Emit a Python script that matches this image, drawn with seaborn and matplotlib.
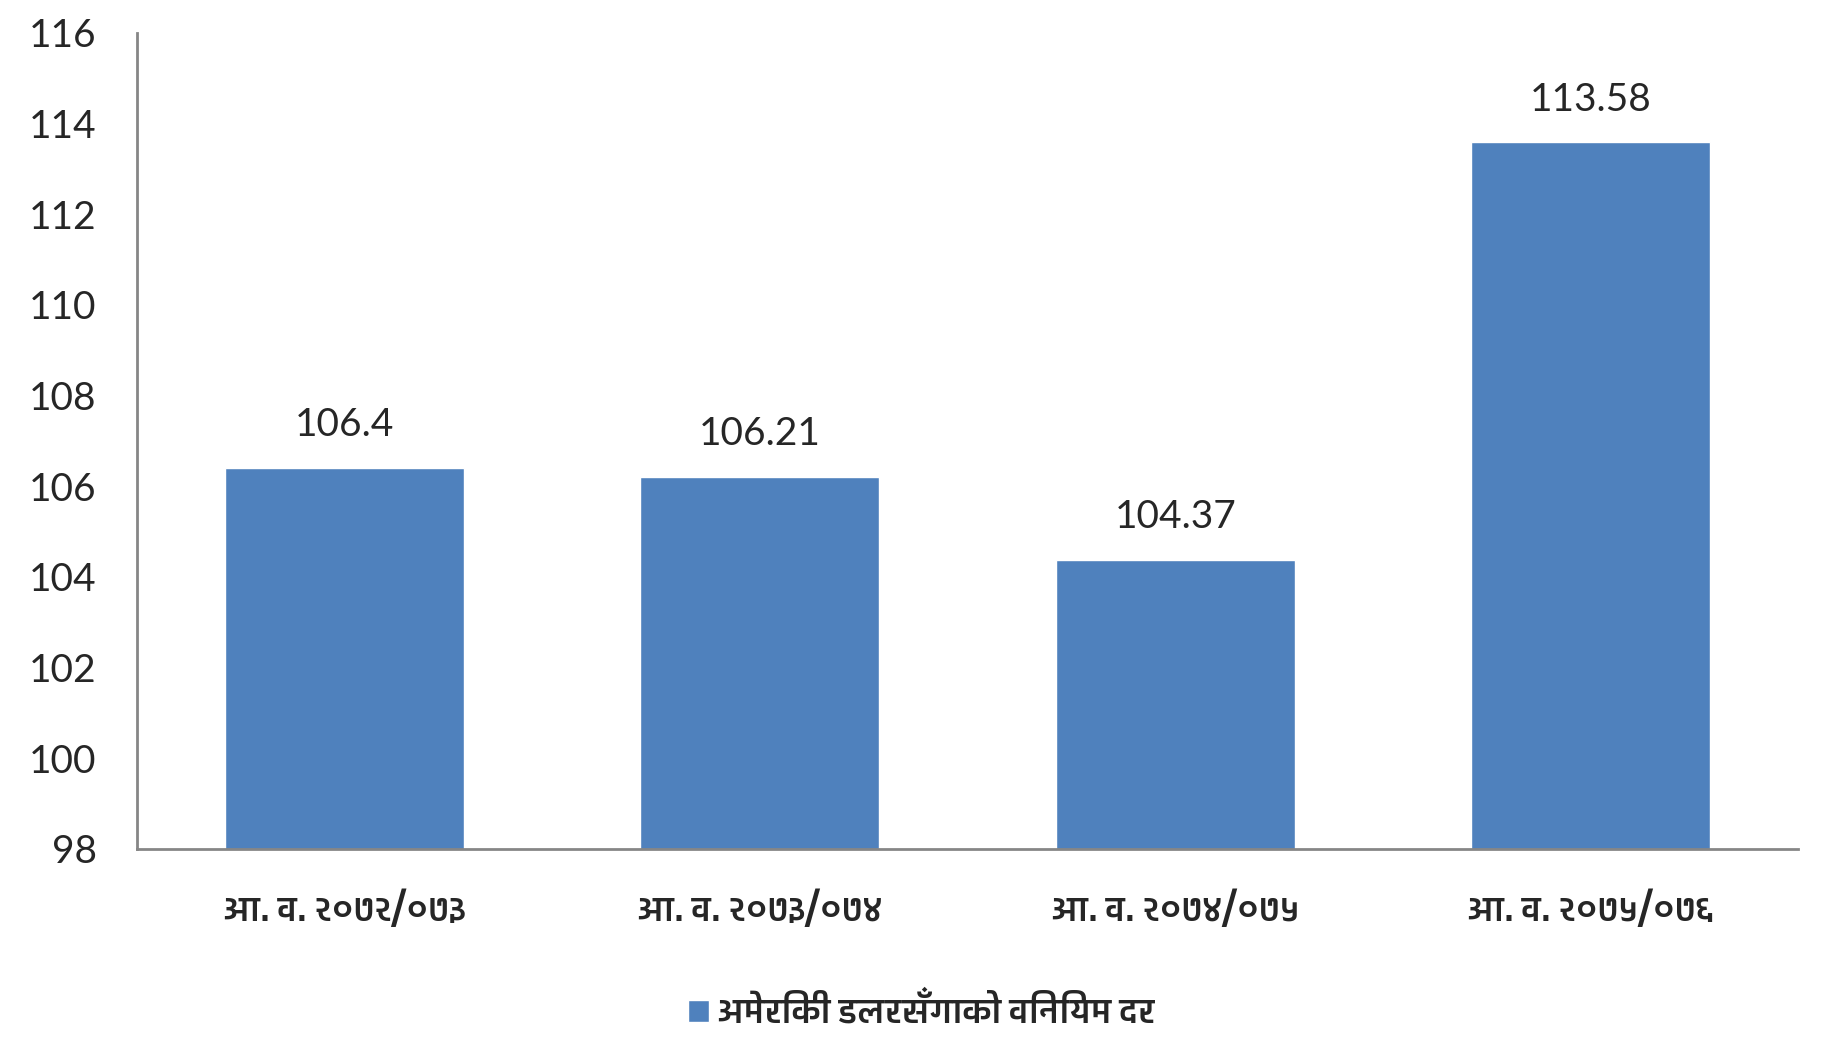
import seaborn as sns
import matplotlib.pyplot as plt
import pandas as pd
from matplotlib import font_manager
from matplotlib.ft2font import FT2Font
from matplotlib.patches import Patch

# fiscal years and USD exchange rate
years = ['आ. व. २०७२/०७३', 'आ. व. २०७३/०७४', 'आ. व. २०७४/०७५', 'आ. व. २०७५/०७६']
rates = [106.4, 106.21, 104.37, 113.58]
rate_labels = ['106.4', '106.21', '104.37', '113.58']
legend_label = 'अमेरिकी डलरसँगाको विनियम दर'

df = pd.DataFrame({'year': years, 'rate': rates})

# find installed fonts that have devanagari glyphs, prefer a bold one
deva_fonts = []
for f in font_manager.fontManager.ttflist:
    try:
        if 0x0905 in FT2Font(f.fname).get_charmap():
            deva_fonts.append(f)
    except Exception:
        pass
deva_font = None
if deva_fonts:
    def wt(f):
        w = f.weight
        if isinstance(w, str):
            w = {'bold': 700, 'normal': 400, 'regular': 400}.get(w, 400)
        return w
    deva_fonts.sort(key=lambda f: -wt(f))
    deva_font = deva_fonts[0].name

sns.set_style('white')
num_family = ['Lato', 'DejaVu Sans']
deva_family = [deva_font, 'DejaVu Sans'] if deva_font else ['DejaVu Sans']
plt.rcParams['font.family'] = num_family

fig, ax = plt.subplots(figsize=(18.24, 10.57), dpi=100)
fig.subplots_adjust(left=0.075, right=0.986, top=0.969, bottom=0.197)

sns.barplot(data=df, x='year', y='rate', color='#4F81BD', saturation=1,
            width=0.575, ax=ax)
ax.set_ylim(98, 116)
ax.set_yticks(range(98, 117, 2))
ax.set_xlabel('')
ax.set_ylabel('')

for i, (v, lab) in enumerate(zip(rates, rate_labels)):
    ax.text(i, v + 0.55, lab, ha='center', va='bottom', fontsize=28)

ax.tick_params(axis='y', labelsize=28, length=0, pad=29)
ax.tick_params(axis='x', length=0, pad=30)
for t in ax.get_xticklabels():
    t.set_family(deva_family)
    t.set_fontsize(25)
    t.set_fontweight('bold')

for s in ['top', 'right']:
    ax.spines[s].set_visible(False)
for s in ['left', 'bottom']:
    ax.spines[s].set_color('#868686')
    ax.spines[s].set_linewidth(2)

handle = Patch(facecolor='#4F81BD')
leg = fig.legend([handle], [legend_label], loc='center', bbox_to_anchor=(0.505, 0.042),
                 frameon=False, handlelength=0.6, handleheight=0.6, handletextpad=0.25,
                 prop={'family': deva_family, 'size': 25, 'weight': 'bold'})

plt.savefig('out.png', dpi=100)
